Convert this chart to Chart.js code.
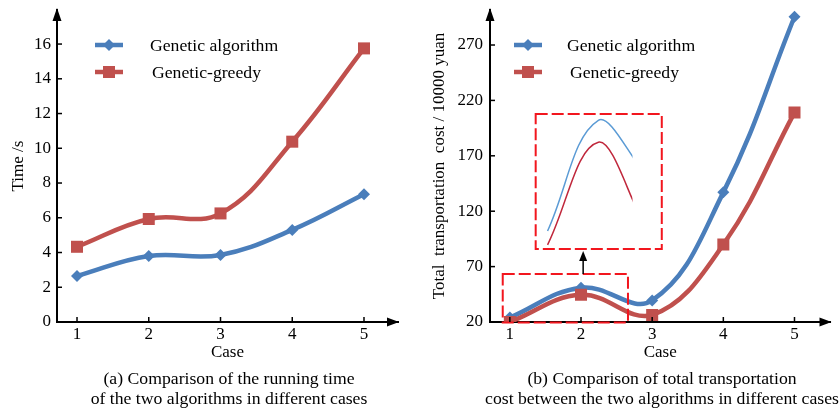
<!DOCTYPE html>
<html>
<head>
<meta charset="utf-8">
<script src="https://cdn.jsdelivr.net/npm/chart.js@4"></script>
<style>
  html, body { margin: 0; padding: 0; background: #fff; overflow: hidden; }
  body { width: 839px; height: 410px; position: relative; font-family: "Liberation Serif", "Times New Roman", serif; }
  canvas { position: absolute; top: 0; }
  .caption { position: absolute; top: 368px; width: 600px; text-align: center; font-size: 17.7px; line-height: 20px; white-space: nowrap; color: #000; }
</style>
</head>
<body>
<canvas id="timeChart" width="420" height="410" style="left:0"></canvas>
<canvas id="costChart" width="419" height="410" style="left:420px"></canvas>
<div class="caption" style="left:-71px">(a) Comparison of the running time<br>of the two algorithms in different cases</div>
<div class="caption" style="left:362px">(b) Comparison of total transportation<br>cost between the two algorithms in different cases</div>
<script>
// data
const cases = [1, 2, 3, 4, 5]
const seriesNames = ["Genetic algorithm", "Genetic-greedy"]
const timeGA = [2.65, 3.8, 3.86, 5.3, 7.35]
const timeGG = [4.33, 5.93, 6.25, 10.38, 15.75]
const costGA = [24, 51, 39.5, 137, 295.5]
const costGG = [20, 44.5, 26.3, 90, 209]
const timeTicks = [0, 2, 4, 6, 8, 10, 12, 14, 16]
const costTicks = [20, 70, 120, 170, 220, 270]

// zoom annotation on the cost chart, in data units
const zoomBox = { x0: 0.9, x1: 2.66, y0: 19.5, y1: 63.3 }
const insetBox = { x0: 1.363, x1: 3.135, y0: 85.9, y1: 207.7 }
const arrowX = 2.03

const BLUE = "#4a7ebb"
const RED = "#c0504d"
const FONT = "'Liberation Serif', 'Times New Roman', serif"

Chart.defaults.font.family = FONT
Chart.defaults.font.size = 17
Chart.defaults.color = "#000"

function lineSet(label, values, color, style, radius) {
  return {
    label: label,
    data: cases.map((c, i) => ({ x: c, y: values[i] })),
    borderColor: color,
    backgroundColor: color,
    borderWidth: 4.5,
    pointStyle: style,
    pointRadius: radius,
    pointHoverRadius: radius,
    pointBorderWidth: 0,
    tension: 0.4,
  }
}

// axis arrows + inward tick marks
const axisDeco = {
  id: "axisDeco",
  afterDraw(chart) {
    const { ctx, chartArea: a, scales } = chart
    ctx.save()
    ctx.strokeStyle = "#000"
    ctx.fillStyle = "#000"
    ctx.lineWidth = 1.5
    scales.x.ticks.forEach((t) => {
      const px = scales.x.getPixelForValue(t.value)
      ctx.beginPath()
      ctx.moveTo(px, a.bottom)
      ctx.lineTo(px, a.bottom - 5)
      ctx.stroke()
    })
    scales.y.ticks.forEach((t) => {
      const py = scales.y.getPixelForValue(t.value)
      ctx.beginPath()
      ctx.moveTo(a.left, py)
      ctx.lineTo(a.left + 5, py)
      ctx.stroke()
    })
    ctx.beginPath()
    ctx.moveTo(a.left, a.top - 2)
    ctx.lineTo(a.left - 4.5, a.top + 11)
    ctx.lineTo(a.left + 4.5, a.top + 11)
    ctx.closePath()
    ctx.fill()
    ctx.beginPath()
    ctx.moveTo(a.right + 1, a.bottom)
    ctx.lineTo(a.right - 11, a.bottom - 4.5)
    ctx.lineTo(a.right - 11, a.bottom + 4.5)
    ctx.closePath()
    ctx.fill()
    ctx.restore()
  },
}

// legend drawn inside the plot
const legendDeco = {
  id: "legendDeco",
  afterDraw(chart, args, opts) {
    const ctx = chart.ctx
    chart.data.datasets.slice(0, 2).forEach((ds, i) => {
      const it = opts.items[i]
      ctx.save()
      ctx.strokeStyle = ds.borderColor
      ctx.lineWidth = ds.borderWidth
      ctx.beginPath()
      ctx.moveTo(it.x, it.y)
      ctx.lineTo(it.x + 28, it.y)
      ctx.stroke()
      ctx.fillStyle = ds.backgroundColor
      Chart.helpers.drawPoint(ctx, { pointStyle: ds.pointStyle, radius: ds.pointRadius, borderWidth: 0 }, it.x + 14, it.y)
      ctx.fillStyle = "#000"
      ctx.font = "17.7px " + FONT
      ctx.textBaseline = "middle"
      ctx.fillText(ds.label, it.tx, it.y + 1)
      ctx.restore()
    })
  },
}

// dashed boxes and arrow of the zoom inset
const zoomDeco = {
  id: "zoomDeco",
  afterDatasetsDraw(chart) {
    const { ctx, scales } = chart
    const x = scales.x, y = scales.y
    const box = (b) => {
      const l = x.getPixelForValue(b.x0), r = x.getPixelForValue(b.x1)
      const t = y.getPixelForValue(b.y1), btm = y.getPixelForValue(b.y0)
      ctx.strokeRect(l, t, r - l, btm - t)
    }
    ctx.save()
    ctx.strokeStyle = "#f2161e"
    ctx.lineWidth = 2
    ctx.setLineDash([12, 4])
    box(zoomBox)
    box(insetBox)
    ctx.setLineDash([])
    const ax = x.getPixelForValue(arrowX)
    const y0 = y.getPixelForValue(zoomBox.y1)
    const y1 = y.getPixelForValue(insetBox.y0) + 2
    ctx.strokeStyle = "#000"
    ctx.fillStyle = "#000"
    ctx.lineWidth = 1.5
    ctx.beginPath()
    ctx.moveTo(ax, y0)
    ctx.lineTo(ax, y1 + 8)
    ctx.stroke()
    ctx.beginPath()
    ctx.moveTo(ax, y1)
    ctx.lineTo(ax - 4, y1 + 10)
    ctx.lineTo(ax + 4, y1 + 10)
    ctx.closePath()
    ctx.fill()
    ctx.restore()
  },
}

function axes(xMax, yMax, yMin, yTicks, yWidth, yTitle, yPad, tickPad) {
  return {
    x: {
      type: "linear",
      min: 0.721,
      max: xMax,
      afterBuildTicks: (s) => { s.ticks = cases.map((v) => ({ value: v })) },
      afterFit: (s) => { s.height = 41; s.paddingLeft = 0; s.paddingRight = 0 },
      grid: { drawOnChartArea: false, drawTicks: false },
      border: { color: "#000", width: 2 },
      ticks: { padding: 2, autoSkip: false },
      title: { display: true, text: "Case", padding: { top: 0, bottom: 0 } },
    },
    y: {
      type: "linear",
      min: yMin,
      max: yMax,
      afterBuildTicks: (s) => { s.ticks = yTicks.map((v) => ({ value: v })) },
      afterFit: (s) => { s.width = yWidth; s.paddingTop = 0; s.paddingBottom = 0 },
      grid: { drawOnChartArea: false, drawTicks: false },
      border: { color: "#000", width: 2 },
      ticks: { padding: tickPad, autoSkip: false },
      title: { display: true, text: yTitle, padding: { top: yPad, bottom: 0 } },
    },
  }
}

const common = {
  responsive: false,
  animation: false,
  events: [],
}

new Chart(document.getElementById("timeChart"), {
  type: "line",
  data: {
    datasets: [
      { ...lineSet(seriesNames[0], timeGA, BLUE, "rectRot", 6), order: 1 },
      { ...lineSet(seriesNames[1], timeGG, RED, "rect", 8.5), order: 0 },
    ],
  },
  options: {
    ...common,
    layout: { padding: { left: 0, top: 10, right: 22, bottom: 47 } },
    scales: axes(5.474, 17.96, 0, timeTicks, 57, "Time /s", 8, 6),
    plugins: {
      legend: { display: false },
      tooltip: { enabled: false },
      legendDeco: { items: [{ x: 95, y: 45, tx: 150 }, { x: 95, y: 72, tx: 152 }] },
    },
  },
  plugins: [axisDeco, legendDeco],
})

// hidden scales for the magnified copy of the curves inside the inset box
const costScales = axes(5.506, 301.6, 20, costTicks, 70, "Total  transportation  cost / 10000 yuan", 9, 7)
costScales.xi = { type: "linear", display: false, min: -0.133, max: 6.569 }
costScales.yi = { type: "linear", display: false, min: 1.79, max: 77.9 }
costScales.yr = { type: "linear", display: false, min: 1.6, max: 76.06 }

const insetClip = { left: -50, right: -198, top: -104, bottom: -73 }

new Chart(document.getElementById("costChart"), {
  type: "line",
  data: {
    datasets: [
      { ...lineSet(seriesNames[0], costGA, BLUE, "rectRot", 6), order: 1 },
      { ...lineSet(seriesNames[1], costGG, RED, "rect", 8.5), order: 0 },
      {
        label: seriesNames[0] + " (zoom)",
        data: cases.map((c, i) => ({ x: c, y: costGA[i] })),
        xAxisID: "xi", yAxisID: "yi",
        borderColor: "#5b9bd5", borderWidth: 1.5, pointRadius: 0, tension: 0.4,
        clip: insetClip, order: 0,
      },
      {
        label: seriesNames[1] + " (zoom)",
        data: cases.map((c, i) => ({ x: c, y: costGG[i] })),
        xAxisID: "xi", yAxisID: "yr",
        borderColor: "#c0283c", borderWidth: 1.5, pointRadius: 0, tension: 0.4,
        clip: insetClip, order: 0,
      },
    ],
  },
  options: {
    ...common,
    layout: { padding: { left: 0, top: 10, right: 6, bottom: 47 } },
    scales: costScales,
    plugins: {
      legend: { display: false },
      tooltip: { enabled: false },
      legendDeco: { items: [{ x: 94, y: 45, tx: 147 }, { x: 94, y: 72, tx: 150 }] },
    },
  },
  plugins: [axisDeco, legendDeco, zoomDeco],
})
</script>
</body>
</html>
